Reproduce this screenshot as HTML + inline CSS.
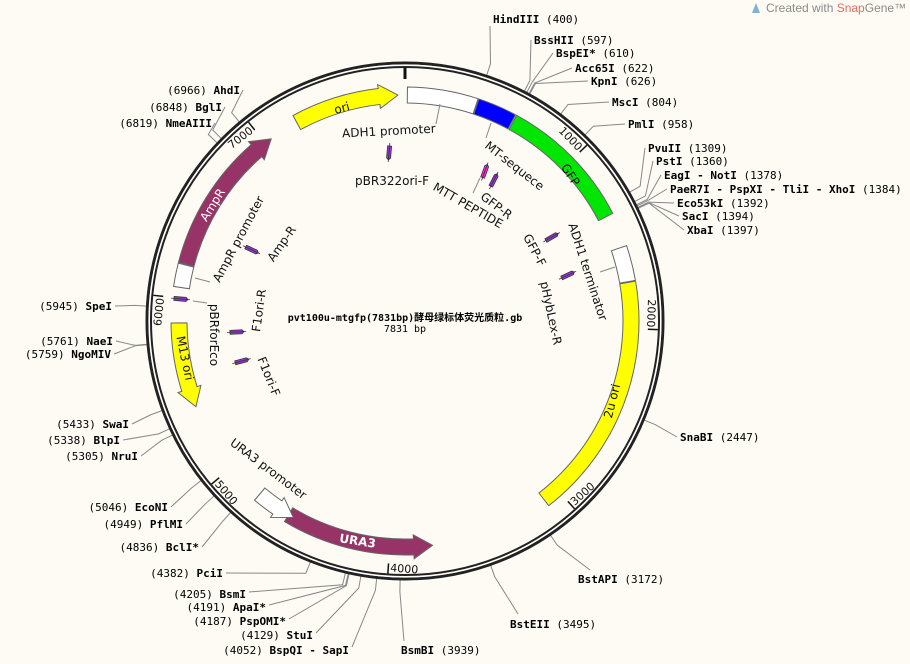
<!DOCTYPE html>
<html><head><meta charset="utf-8"><style>
html,body{margin:0;padding:0;background:#fdfbf4;}
svg{display:block}
.e{font-family:"DejaVu Sans Mono","Liberation Mono",monospace;font-size:11px;fill:#000}
.e tspan.b{font-weight:bold}
.f{font-family:"DejaVu Sans","Liberation Sans",sans-serif;font-size:12px;fill:#111}
.t{font-family:"DejaVu Sans","Liberation Sans",sans-serif;font-size:11px;fill:#111}
</style></head><body>
<svg id="s" width="910" height="664" viewBox="0 0 910 664" xmlns="http://www.w3.org/2000/svg">
<rect width="910" height="664" fill="#fdfbf4"/>
<g id="lines" stroke="#888" stroke-width="1" fill="none"></g>
<circle cx="405" cy="321" r="258" fill="none" stroke="#222" stroke-width="3"/>
<circle cx="405" cy="321" r="256" fill="none" stroke="#fff" stroke-width="1.2"/>
<circle cx="405" cy="321" r="254" fill="none" stroke="#222" stroke-width="2"/>
<g id="ticks" stroke="#111"></g>
<g id="feat" stroke="#666" stroke-width="1"></g>
<g id="prim"></g>
<g stroke="#888" stroke-width="1" fill="none">
<path d="M440 104L436 124"/><path d="M491 123L486 138"/><path d="M480 178L473 193"/>
<path d="M615 267L600 272"/><path d="M195 278L210 282"/><path d="M193 301L207 303"/>
</g>

<!-- tick labels -->
<text class="t" text-anchor="end" transform="translate(579,152.8) rotate(46)" x="-2">1000</text>
<text class="t" text-anchor="end" transform="translate(646.9,329.2) rotate(92)" x="-2">2000</text>
<text class="t" text-anchor="start" transform="translate(573.2,507.3) rotate(-42)" x="2">3000</text>
<text class="t" text-anchor="start" transform="translate(388,571.4) rotate(4)" x="2">4000</text>
<text class="t" text-anchor="start" transform="translate(213.1,482.8) rotate(50)" x="2">5000</text>
<text class="t" text-anchor="end" transform="translate(164.3,296.4) rotate(-84)" x="-2">6000</text>
<text class="t" text-anchor="end" transform="translate(255.3,130.8) rotate(-38)" x="-2">7000</text>

<!-- feature labels -->
<text class="f" text-anchor="middle" transform="translate(389,135) rotate(-3)">ADH1 promoter</text>
<text class="f" text-anchor="middle" transform="translate(392,185)">pBR322ori-F</text>
<text class="f" text-anchor="middle" transform="translate(512,169) rotate(38)">MT-sequece</text>
<text class="f" text-anchor="middle" transform="translate(466,209) rotate(30)">MTT PEPTIDE</text>
<text class="f" text-anchor="middle" transform="translate(494,209) rotate(37)">GFP-R</text>
<text class="f" text-anchor="middle" transform="translate(531,252) rotate(62)">GFP-F</text>
<text class="f" text-anchor="middle" transform="translate(584,273) rotate(72)">ADH1 terminator</text>
<text class="f" text-anchor="middle" transform="translate(547,314) rotate(78)">pHybLex-R</text>
<text class="f" text-anchor="middle" transform="translate(242,241) rotate(-62)">AmpR promoter</text>
<text class="f" text-anchor="middle" transform="translate(285,246) rotate(-55)">Amp-R</text>
<text class="f" text-anchor="middle" transform="translate(210,335) rotate(90)">pBRforEco</text>
<text class="f" text-anchor="middle" transform="translate(263,311) rotate(-82)">F1ori-R</text>
<text class="f" text-anchor="middle" transform="translate(265,378) rotate(68)">F1ori-F</text>
<text class="f" text-anchor="middle" transform="translate(266,472) rotate(37)">URA3 promoter</text>

<!-- arc labels -->
<text class="f" text-anchor="middle" transform="translate(343,112) rotate(-16)">ori</text>
<text class="f" text-anchor="middle" transform="translate(567,177) rotate(57)">GFP</text>
<text class="f" text-anchor="middle" transform="translate(616,402) rotate(-76)">2u ori</text>
<text class="f" text-anchor="middle" style="fill:#fff;font-weight:bold" transform="translate(357,545) rotate(9)">URA3</text>
<text class="f" text-anchor="middle" transform="translate(181,359) rotate(78)">M13 ori</text>
<text class="f" text-anchor="middle" style="fill:#fff" transform="translate(216,207) rotate(-58)">AmpR</text>

<!-- center -->
<text text-anchor="middle" x="405" y="321" style="font-family:'DejaVu Sans Mono','Noto Sans CJK SC',monospace;font-size:10px;font-weight:bold">pvt100u-mtgfp(7831bp)酵母绿标体荧光质粒.gb</text>
<text text-anchor="middle" x="405" y="332" style="font-family:'DejaVu Sans Mono',monospace;font-size:10px">7831 bp</text>

<!-- enzymes right -->
<text class="e" x="493" y="23"><tspan class="b">HindIII</tspan> (400)</text>
<text class="e" x="534" y="44"><tspan class="b">BssHII</tspan> (597)</text>
<text class="e" x="556" y="57"><tspan class="b">BspEI*</tspan> (610)</text>
<text class="e" x="575" y="72"><tspan class="b">Acc65I</tspan> (622)</text>
<text class="e" x="591" y="85"><tspan class="b">KpnI</tspan> (626)</text>
<text class="e" x="612" y="106"><tspan class="b">MscI</tspan> (804)</text>
<text class="e" x="628" y="128"><tspan class="b">PmlI</tspan> (958)</text>
<text class="e" x="648" y="152"><tspan class="b">PvuII</tspan> (1309)</text>
<text class="e" x="656" y="165"><tspan class="b">PstI</tspan> (1360)</text>
<text class="e" x="664" y="179"><tspan class="b">EagI - NotI</tspan> (1378)</text>
<text class="e" x="670" y="193"><tspan class="b">PaeR7I - PspXI - TliI - XhoI</tspan> (1384)</text>
<text class="e" x="677" y="207"><tspan class="b">Eco53kI</tspan> (1392)</text>
<text class="e" x="682" y="220"><tspan class="b">SacI</tspan> (1394)</text>
<text class="e" x="687" y="234"><tspan class="b">XbaI</tspan> (1397)</text>
<text class="e" x="680" y="441"><tspan class="b">SnaBI</tspan> (2447)</text>
<text class="e" x="578" y="583"><tspan class="b">BstAPI</tspan> (3172)</text>
<text class="e" x="510" y="628"><tspan class="b">BstEII</tspan> (3495)</text>
<text class="e" x="401" y="654"><tspan class="b">BsmBI</tspan> (3939)</text>
<!-- enzymes left -->
<text class="e" text-anchor="end" x="240" y="94">(6966) <tspan class="b">AhdI</tspan></text>
<text class="e" text-anchor="end" x="222" y="111">(6848) <tspan class="b">BglI</tspan></text>
<text class="e" text-anchor="end" x="212" y="127">(6819) <tspan class="b">NmeAIII</tspan></text>
<text class="e" text-anchor="end" x="112" y="310">(5945) <tspan class="b">SpeI</tspan></text>
<text class="e" text-anchor="end" x="113" y="345">(5761) <tspan class="b">NaeI</tspan></text>
<text class="e" text-anchor="end" x="111" y="358">(5759) <tspan class="b">NgoMIV</tspan></text>
<text class="e" text-anchor="end" x="129" y="428">(5433) <tspan class="b">SwaI</tspan></text>
<text class="e" text-anchor="end" x="120" y="444">(5338) <tspan class="b">BlpI</tspan></text>
<text class="e" text-anchor="end" x="138" y="460">(5305) <tspan class="b">NruI</tspan></text>
<text class="e" text-anchor="end" x="168" y="511">(5046) <tspan class="b">EcoNI</tspan></text>
<text class="e" text-anchor="end" x="183" y="528">(4949) <tspan class="b">PflMI</tspan></text>
<text class="e" text-anchor="end" x="199" y="551">(4836) <tspan class="b">BclI*</tspan></text>
<text class="e" text-anchor="end" x="223" y="577">(4382) <tspan class="b">PciI</tspan></text>
<text class="e" text-anchor="end" x="246" y="598">(4205) <tspan class="b">BsmI</tspan></text>
<text class="e" text-anchor="end" x="266" y="611">(4191) <tspan class="b">ApaI*</tspan></text>
<text class="e" text-anchor="end" x="286" y="625">(4187) <tspan class="b">PspOMI*</tspan></text>
<text class="e" text-anchor="end" x="313" y="639">(4129) <tspan class="b">StuI</tspan></text>
<text class="e" text-anchor="end" x="349" y="654">(4052) <tspan class="b">BspQI - SapI</tspan></text>

<!-- logo -->
<path d="M752 13 L756 3 L760 13 Z" fill="#7fb3d5"/>
<text x="766" y="12" style="font-family:'Liberation Sans',sans-serif;font-size:12px;fill:#8a8a8a">Created with <tspan fill="#e07060">Snap</tspan>Gene™</text>
</svg>
<script>
(function(){
var NS="http://www.w3.org/2000/svg",CX=405,CY=321;
function P(r,a){a*=Math.PI/180;return [CX+r*Math.sin(a),CY-r*Math.cos(a)];}
function s(p){return p[0].toFixed(2)+" "+p[1].toFixed(2);}
function el(g,tag,attrs){var e=document.createElementNS(NS,tag);for(var k in attrs)e.setAttribute(k,attrs[k]);document.getElementById(g).appendChild(e);return e;}
var R1=218,R2=234,RM=226,H=4.8;
function arc(r,a1,a2,sw){var l=(a2-a1)>180?1:0;return "A"+r+" "+r+" 0 "+l+" "+sw+" "+s(P(r,a2));}
function box(a1,a2,c){el("feat","path",{d:"M"+s(P(R2,a1))+arc(R2,a1,a2,1)+"L"+s(P(R1,a2))+arc(R1,a2,a1,0)+"Z",fill:c});}
function arrow(a1,a2,cw,c){var d;
 if(cw){var hb=a2-H;d="M"+s(P(R2,a1))+arc(R2,a1,hb,1)+"L"+s(P(R2+4,hb))+"L"+s(P(RM,a2))+"L"+s(P(R1-4,hb))+"L"+s(P(R1,hb))+arc(R1,hb,a1,0)+"Z";}
 else{var hb=a1+H;d="M"+s(P(R2,a2))+arc(R2,a2,hb,0)+"L"+s(P(R2+4,hb))+"L"+s(P(RM,a1))+"L"+s(P(R1-4,hb))+"L"+s(P(R1,hb))+arc(R1,hb,a2,1)+"Z";}
 el("feat","path",{d:d,fill:c});}
arrow(331.4,358.2,true,"#ffff00");
box(0.6,18.2,"#ffffff");
box(18.4,28.2,"#0000ff");
box(28.5,62.6,"#00e600");
box(71.2,80,"#ffffff");
box(80.2,142.1,"#ffff00");
arrow(173,211,false,"#973366");
arrow(209.6,220,false,"#ffffff");
arrow(247.7,269.5,false,"#ffff00");
box(278.5,284.3,"#ffffff");
arrow(284.5,323.7,true,"#973366");
// ticks
for(var i=0;i<8;i++){var a=i*1000*360/7831;var p1=P(253,a),p2=P(i==0?242:243,a);
 el("ticks","line",{x1:p1[0],y1:p1[1],x2:p2[0],y2:p2[1],"stroke-width":i==0?3:1.5});}
// enzyme lines
var E=[[400,490,26,0],[597,531,40,0],[610,553,53,0],[622,572,68,0],[626,588,81,0],[804,609,102,0],[958,625,124,0],
[1309,645,148,0],[1360,653,161,0],[1378,661,175,0],[1384,667,189,0],[1392,674,203,0],[1394,679,216,0],[1397,684,230,0],
[2447,677,437,0],[3172,590,570,0],[3495,518,614,0],[3939,404,641,0],
[6966,243,90,0],[6848,225,107,0],[6819,215,123,0],[5945,115,306,0],[5761,116,341,0],[5759,114,354,0],
[5433,132,424,0],[5338,123,440,0],[5305,141,456,0],[5046,171,507,0],[4949,186,524,0],[4836,202,547,0],
[4382,226,573,0],[4205,249,592,0],[4191,269,605,0],[4187,289,619,0],[4129,316,633,0],[4052,352,647,0]];
E.forEach(function(e){var a=e[0]*360/7831;var p1=P(259,a),p2=P(271,a);
 el("lines","polyline",{points:s(p1)+" "+s(p2)+" "+e[1]+" "+e[2]});});
// primers
var PR=[[389,153,95,"#9933dd"],[485,171,-70,"#ff22dd"],[494,180,-63,"#9933dd"],[552,237,-30,"#9933dd"],
[568,275,-25,"#9933dd"],[252,250,25,"#9933dd"],[181,299,5,"#9933dd"],[237,332,-3,"#9933dd"],[242,361,-15,"#9933dd"]];
PR.forEach(function(q){var g=el("prim","g",{transform:"translate("+q[0]+","+q[1]+") rotate("+q[2]+")"});
 var r=document.createElementNS(NS,"path");r.setAttribute("d","M-7 -2 L5 -2 L7 0 L5 2 L-7 2 Z");r.setAttribute("fill",q[3]);r.setAttribute("stroke","#333");r.setAttribute("stroke-width","0.8");g.appendChild(r);
 var l=document.createElementNS(NS,"line");l.setAttribute("x1","-10");l.setAttribute("y1","0");l.setAttribute("x2","9");l.setAttribute("y2","0");l.setAttribute("stroke","#333");l.setAttribute("stroke-width","0.8");g.appendChild(l);});
})();
</script>
</body></html>
